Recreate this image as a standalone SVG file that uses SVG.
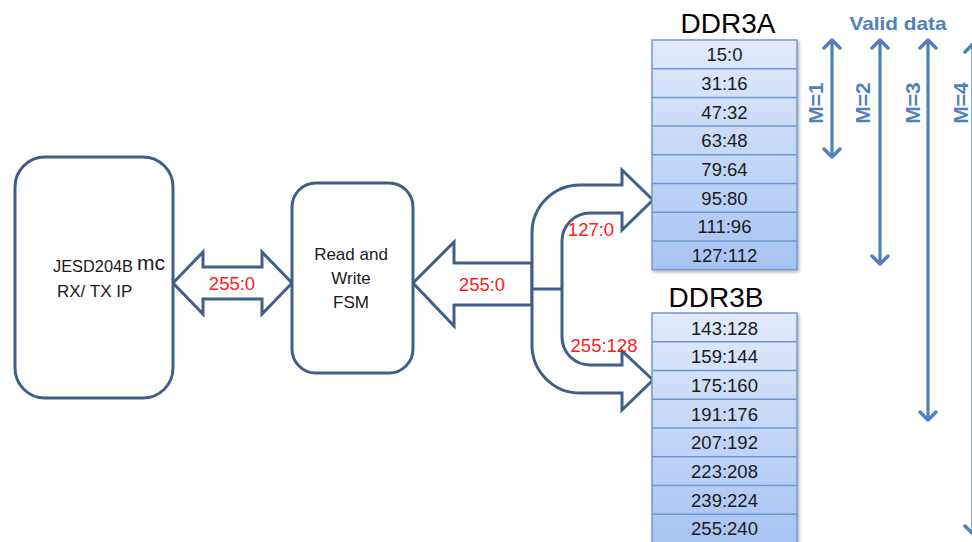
<svg xmlns="http://www.w3.org/2000/svg" width="972" height="542" viewBox="0 0 972 542">
  <style>
    .box { fill: #ffffff; stroke: #3f5f8a; stroke-width: 3; }
    .bus { fill: #ffffff; stroke: #3f5f8a; stroke-width: 3; stroke-linejoin: miter; }
    .lbl { font-family: "Liberation Sans", Arial, sans-serif; font-size: 17px; fill: #1a1a1a; }
    .red { font-family: "Liberation Sans", Arial, sans-serif; font-size: 18.5px; fill: #ff1a1a; text-anchor: middle; }
    .title { font-family: "Liberation Sans", Arial, sans-serif; font-size: 28px; fill: #000000; text-anchor: middle; }
    .cell { font-family: "Liberation Sans", Arial, sans-serif; font-size: 18.5px; fill: #1a1a1a; text-anchor: middle; }
    .tbl { stroke: #6f99d4; stroke-width: 1.5; }
    .sep { stroke: #6b96d2; stroke-width: 1.5; }
    .span { stroke: #4f81bd; stroke-width: 3.2; fill: none; marker-start: url(#chev); marker-end: url(#chev); }
    .blue { font-family: "Liberation Sans", Arial, sans-serif; font-weight: bold; font-size: 19px; fill: #4f81bd; text-anchor: middle; }
    .m { font-size: 21px; }
  </style>
  <defs>
    <linearGradient id="cellFill" x1="0" y1="0" x2="0" y2="1">
      <stop offset="0" stop-color="#e1ebfb"/>
      <stop offset="1" stop-color="#a7c3f3"/>
    </linearGradient>
    <filter id="shadow" x="-10%" y="-10%" width="130%" height="130%">
      <feDropShadow dx="1.5" dy="2" stdDeviation="1.5" flood-color="#000000" flood-opacity="0.3"/>
    </filter>
    <marker id="chev" viewBox="0 0 20 20" refX="11" refY="10" markerWidth="20" markerHeight="20" markerUnits="userSpaceOnUse" orient="auto-start-reverse">
      <path d="M 3 2 L 11 10 L 3 18" fill="none" stroke="#4f81bd" stroke-width="3.5" stroke-linecap="round" stroke-linejoin="round"/>
    </marker>
  </defs>

  <rect width="972" height="542" fill="#ffffff"/>

  <!-- buses between the blocks -->
  <g id="connectors">
    <!-- bidirectional 256-bit bus between the IP core and the FSM -->
    <path class="bus" d="M 173 283 L 203 252 L 203 267 L 262 267 L 262 252 L 292 283 L 262 314 L 262 299 L 203 299 L 203 314 Z"/>
    <text class="red" x="232" y="290">255:0</text>

    <!-- memory bus into the FSM -->
    <path class="bus" d="M 413 283 L 454 242 L 454 263 L 532 263 L 532 305 L 454 305 L 454 326 Z"/>
    <text class="red" x="482" y="291">255:0</text>

    <!-- split of the bus into the two DDR3 banks -->
    <path class="bus" d="M 622 185 L 580 185 A 48 48 0 0 0 532 233 L 532 345 A 48 48 0 0 0 580 393 L 622 393 L 622 410 L 653 380 L 622 351 L 622 365 L 590 365 A 28 28 0 0 1 562 337 L 562 241 A 28 28 0 0 1 590 213 L 622 213 L 622 230 L 653 200 L 622 170 Z"/>
    <line x1="532" y1="289" x2="562" y2="289" stroke="#3f5f8a" stroke-width="3"/>
    <text class="red" x="591" y="236">127:0</text>
    <text class="red" x="604" y="352">255:128</text>
  </g>

  <g id="jesd204b">
    <rect class="box" x="15" y="157" width="158" height="241" rx="30" ry="30"/>
    <text class="lbl" x="53" y="272" textLength="80" lengthAdjust="spacingAndGlyphs">JESD204B</text>
    <text class="lbl" x="137" y="270" style="font-size:21px">mc</text>
    <text class="lbl" x="57" y="297">RX/ TX IP</text>
  </g>

  <g id="fsm">
    <rect class="box" x="292" y="183" width="121" height="190" rx="24" ry="24"/>
    <text class="lbl" x="351" y="260" text-anchor="middle">Read and</text>
    <text class="lbl" x="351" y="284" text-anchor="middle">Write</text>
    <text class="lbl" x="351" y="308" text-anchor="middle">FSM</text>
  </g>

  <g id="ddr3a">
    <text class="title" x="728" y="33">DDR3A</text>
    <rect class="tbl" x="652" y="40" width="145" height="229.6" fill="url(#cellFill)" filter="url(#shadow)"/>
    <g class="sep">
      <line x1="652" y1="68.7" x2="797" y2="68.7"/>
      <line x1="652" y1="97.4" x2="797" y2="97.4"/>
      <line x1="652" y1="126.1" x2="797" y2="126.1"/>
      <line x1="652" y1="154.8" x2="797" y2="154.8"/>
      <line x1="652" y1="183.5" x2="797" y2="183.5"/>
      <line x1="652" y1="212.2" x2="797" y2="212.2"/>
      <line x1="652" y1="240.9" x2="797" y2="240.9"/>
    </g>
    <text class="cell" x="724.5" y="61">15:0</text>
    <text class="cell" x="724.5" y="90">31:16</text>
    <text class="cell" x="724.5" y="118.5">47:32</text>
    <text class="cell" x="724.5" y="147">63:48</text>
    <text class="cell" x="724.5" y="176">79:64</text>
    <text class="cell" x="724.5" y="204.5">95:80</text>
    <text class="cell" x="724.5" y="233">111:96</text>
    <text class="cell" x="724.5" y="262">127:112</text>
  </g>

  <g id="ddr3b">
    <text class="title" x="716" y="307">DDR3B</text>
    <rect class="tbl" x="652" y="313" width="145" height="232" fill="url(#cellFill)" filter="url(#shadow)"/>
    <g class="sep">
      <line x1="652" y1="341.75" x2="797" y2="341.75"/>
      <line x1="652" y1="370.5" x2="797" y2="370.5"/>
      <line x1="652" y1="399.25" x2="797" y2="399.25"/>
      <line x1="652" y1="428" x2="797" y2="428"/>
      <line x1="652" y1="456.75" x2="797" y2="456.75"/>
      <line x1="652" y1="485.5" x2="797" y2="485.5"/>
      <line x1="652" y1="514.25" x2="797" y2="514.25"/>
    </g>
    <text class="cell" x="724.5" y="334.5">143:128</text>
    <text class="cell" x="724.5" y="363">159:144</text>
    <text class="cell" x="724.5" y="392">175:160</text>
    <text class="cell" x="724.5" y="420.5">191:176</text>
    <text class="cell" x="724.5" y="449">207:192</text>
    <text class="cell" x="724.5" y="478">223:208</text>
    <text class="cell" x="724.5" y="506.5">239:224</text>
    <text class="cell" x="724.5" y="535">255:240</text>
  </g>

  <!-- valid-data spans for each burst multiplier -->
  <g id="valid-data">
    <text class="blue" x="898" y="30" textLength="97" lengthAdjust="spacingAndGlyphs">Valid data</text>
    <line class="span" x1="832" y1="40" x2="832" y2="157"/>
    <line class="span" x1="880" y1="40" x2="880" y2="264"/>
    <line class="span" x1="928" y1="40" x2="928" y2="420"/>
    <line class="span" x1="973" y1="44" x2="973" y2="534"/>
    <text class="blue m" transform="translate(822.5,103) rotate(-90)">M=1</text>
    <text class="blue m" transform="translate(869.5,103) rotate(-90)">M=2</text>
    <text class="blue m" transform="translate(919.5,103) rotate(-90)">M=3</text>
    <text class="blue m" transform="translate(967.5,103) rotate(-90)">M=4</text>
  </g>
</svg>
